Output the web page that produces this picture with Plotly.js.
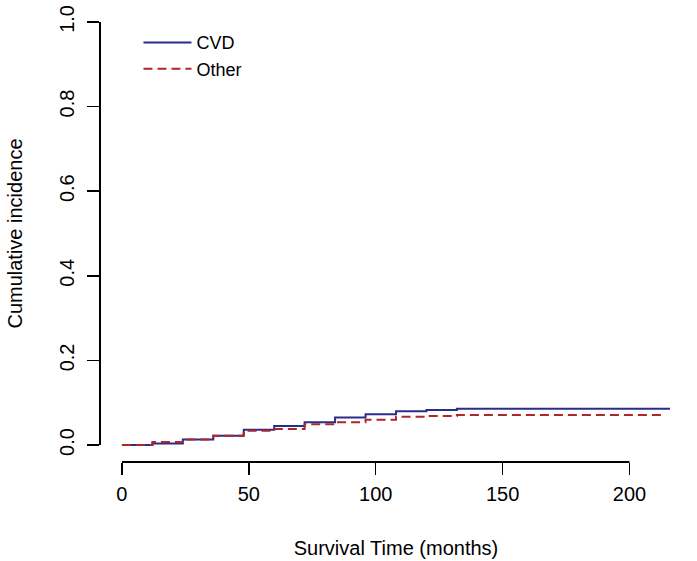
<!DOCTYPE html>
<html>
<head>
<meta charset="utf-8">
<script src="https://cdn.plot.ly/plotly-3.0.1.min.js"></script>
<style>html,body{margin:0;padding:0;background:#fff;}#chart{width:697px;height:561px;}</style>
</head>
<body>
<div id="chart"></div>
<script>
// Step times (months) and cumulative incidence values
var cvdTimes = [0, 12, 24, 36, 48, 60, 72, 84, 96, 108, 120, 132, 216];
var cvdValues = [0, 0.004, 0.013, 0.022, 0.036, 0.045, 0.054, 0.065, 0.073, 0.080, 0.083, 0.086, 0.086];
var otherTimes = [0, 12, 24, 36, 48, 60, 72, 84, 96, 108, 120, 132, 214];
var otherValues = [0, 0.007, 0.013, 0.022, 0.034, 0.038, 0.049, 0.054, 0.060, 0.067, 0.069, 0.071, 0.071];
var seriesNames = ['CVD', 'Other'];
var xTicks = [0, 50, 100, 150, 200];
var yTicks = [0, 0.2, 0.4, 0.6, 0.8, 1.0];
var yTickText = ['0.0', '0.2', '0.4', '0.6', '0.8', '1.0'];

var font = 'Liberation Sans, Arial, sans-serif';
var fs = 20;

var traces = [
  {x: cvdTimes, y: cvdValues, name: seriesNames[0], type: 'scatter', mode: 'lines',
   line: {shape: 'hv', color: '#2b2d8a', width: 2}},
  {x: otherTimes, y: otherValues, name: seriesNames[1], type: 'scatter', mode: 'lines',
   line: {shape: 'hv', color: '#b0262a', width: 2, dash: '9px,5px'}}
];

var layout = {
  width: 697, height: 561,
  paper_bgcolor: '#fff', plot_bgcolor: '#fff',
  margin: {l: 100, r: 5, t: 5, b: 99},
  font: {family: font, size: fs, color: '#000'},
  showlegend: true,
  legend: {x: 0.065, y: 0.958, xanchor: 'left', yanchor: 'top', bgcolor: 'rgba(0,0,0,0)',
           itemwidth: 48, font: {family: font, size: 18, color: '#000'}, tracegroupgap: 0},
  xaxis: {range: [-8.64, 224.64], tickvals: xTicks, ticks: 'outside', ticklen: 12, tickwidth: 1.5,
          tickcolor: '#000', showgrid: false, zeroline: false, showline: false,
          tickfont: {family: font, size: fs}, ticklabelstandoff: 2,
          title: {text: 'Survival Time (months)', font: {family: font, size: fs}, standoff: 36}},
  yaxis: {range: [-0.04, 1.04], tickvals: yTicks, ticktext: yTickText, ticks: 'outside', ticklen: 12,
          tickwidth: 1.5, tickcolor: '#000', tickangle: -90, showgrid: false, zeroline: false,
          showline: false, tickfont: {family: font, size: fs}, ticklabelstandoff: 5,
          title: {text: 'Cumulative incidence', font: {family: font, size: fs}, standoff: 28}},
  shapes: [
    {type: 'line', xref: 'x', yref: 'paper', x0: xTicks[0], x1: xTicks[xTicks.length - 1], y0: 0, y1: 0,
     line: {color: '#000', width: 2}},
    {type: 'line', xref: 'paper', yref: 'y', x0: 0, x1: 0, y0: yTicks[0], y1: yTicks[yTicks.length - 1],
     line: {color: '#000', width: 2}}
  ]
};

Plotly.newPlot('chart', traces, layout, {displayModeBar: false, staticPlot: true});
</script>
</body>
</html>
